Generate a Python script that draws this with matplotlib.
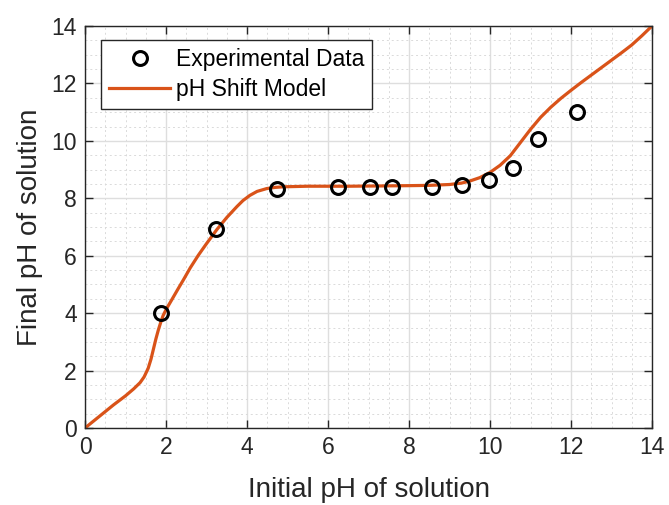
import matplotlib
matplotlib.use("Agg")
import matplotlib.pyplot as plt
from matplotlib.ticker import MultipleLocator

# ---- data ----
exp_initial = [1.88, 3.23, 4.74, 6.25, 7.04, 7.58, 8.57, 9.31, 9.98, 10.57, 11.19, 12.15]
exp_final = [4.00, 6.94, 8.32, 8.39, 8.39, 8.39, 8.40, 8.45, 8.62, 9.07, 10.05, 11.02]

model_initial = [0.0, 0.35, 0.7, 1.0, 1.2, 1.36, 1.46, 1.56, 1.63, 1.69, 1.75, 1.81,
                 1.87, 1.93, 2.0, 2.14, 2.3, 2.43, 2.6, 2.8, 3.0, 3.25, 3.5, 3.75,
                 3.9, 4.07, 4.25, 4.49, 4.7, 4.9, 5.5, 6.5, 7.3, 8.0, 8.5, 9.0,
                 9.3, 9.5, 9.75, 10.0, 10.25, 10.5, 10.75, 11.0, 11.25, 11.5, 11.75,
                 12.0, 12.25, 12.5, 12.75, 13.0, 13.25, 13.5, 13.75, 14.0]
model_final = [0.0, 0.40, 0.80, 1.12, 1.36, 1.58, 1.78, 2.08, 2.40, 2.75, 3.10, 3.41,
               3.68, 3.92, 4.12, 4.46, 4.85, 5.16, 5.58, 6.02, 6.42, 6.90, 7.33, 7.71,
               7.92, 8.10, 8.24, 8.34, 8.38, 8.40, 8.42, 8.42, 8.43, 8.44, 8.45, 8.48,
               8.53, 8.60, 8.72, 8.90, 9.15, 9.48, 9.94, 10.40, 10.82, 11.17, 11.48,
               11.76, 12.03, 12.29, 12.55, 12.81, 13.07, 13.34, 13.66, 14.0]

xticks = [0, 2, 4, 6, 8, 10, 12, 14]
yticks = [0, 2, 4, 6, 8, 10, 12, 14]
xlabel = "Initial pH of solution"
ylabel = "Final pH of solution"
legend_labels = ["Experimental Data", "pH Shift Model"]

plt.rcParams['font.family'] = ['Liberation Sans', 'DejaVu Sans']

fig = plt.figure(figsize=(6.69, 5.05), dpi=100)
ax = fig.add_axes([85/669, 1-428/505, (652-85)/669, (428-26)/505])

axcol = "#262626"
ax.plot(exp_initial, exp_final, linestyle='none', marker='o', markersize=10,
        markerfacecolor='none', markeredgecolor='black', markeredgewidth=2.2,
        label=legend_labels[0], zorder=3)
ax.plot(model_initial, model_final, color='#D95319', linewidth=2.3,
        label=legend_labels[1], zorder=2, solid_joinstyle='round')

ax.set_xlim(0, 14)
ax.set_ylim(0, 14)
ax.set_xticks(xticks)
ax.set_yticks(yticks)
ax.xaxis.set_minor_locator(MultipleLocator(0.5))
ax.yaxis.set_minor_locator(MultipleLocator(0.5))
ax.grid(which='major', color='#dedede', linewidth=1.0, linestyle='-')
ax.grid(which='minor', color='#dadada', linewidth=0.7, linestyle=(0, (2, 3)))
ax.set_axisbelow(True)
ax.tick_params(which='major', direction='in', length=6, width=1, color=axcol,
               top=True, right=True, labelsize=16.5, labelcolor='#262626', pad=6)
ax.tick_params(which='minor', length=0, top=True, right=True)
for s in ax.spines.values():
    s.set_color(axcol)
    s.set_linewidth(1.0)

ax.set_xlabel(xlabel, fontsize=20, color='#262626', labelpad=13)
ax.set_ylabel(ylabel, fontsize=20, color='#262626', labelpad=6)

leg = ax.legend(loc='upper left', bbox_to_anchor=(16/567, 1-14/402), fontsize=16.5,
                frameon=True, fancybox=False, edgecolor=axcol, framealpha=1,
                handlelength=2.7, borderpad=0.33, labelspacing=0.33, handletextpad=0.25,
                borderaxespad=0)
leg.get_frame().set_linewidth(1.0)

fig.savefig("out.png", dpi=100)
